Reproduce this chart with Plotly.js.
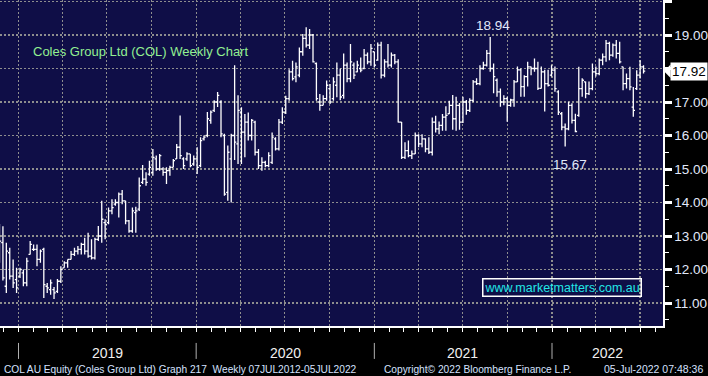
<!DOCTYPE html>
<html>
<head>
<meta charset="utf-8">
<script src="https://cdn.plot.ly/plotly-3.0.1.min.js"></script>
<style>html,body{margin:0;padding:0;background:#000;}#chart{width:708px;height:376px;}</style>
</head>
<body>
<div id="chart"></div>
<script>
// Weekly bars, first week ending 2018-11-23
const firstWeek = '2018-11-23';
const opens = [12.90,12.80,11.50,12.50,11.80,11.70,11.80,11.90,11.60,12.45,12.60,12.60,12.30,12.60,11.50,11.40,11.40,11.35,11.65,12.05,
12.20,12.30,12.45,12.55,12.60,12.75,12.55,12.40,12.35,12.90,13.00,13.40,13.40,13.75,13.95,14.00,14.25,14.05,13.45,13.15,
13.70,13.80,14.60,14.70,14.85,14.90,15.30,15.00,15.00,14.90,14.95,15.05,15.30,15.65,15.30,15.30,15.45,15.15,15.30,15.10,
15.90,16.00,16.45,16.75,17.00,17.00,16.00,14.30,15.30,16.00,15.75,16.70,16.10,16.40,16.00,16.40,15.50,15.10,15.20,15.10,
15.20,15.90,15.60,16.40,16.70,17.10,17.90,17.75,17.80,18.50,18.90,18.70,19.00,18.15,17.00,16.90,17.10,17.40,17.10,17.50,
17.80,17.20,18.10,17.70,18.10,17.90,18.00,18.00,18.40,18.20,18.50,18.25,18.70,17.80,18.20,18.10,18.40,18.20,16.40,15.35,
15.55,15.40,15.45,16.00,15.75,15.90,15.60,15.50,16.40,16.20,16.30,16.55,16.65,16.90,16.50,16.90,16.40,17.00,16.75,17.05,
17.60,17.55,18.00,18.10,18.45,18.00,17.65,17.30,17.00,17.10,16.90,17.06,17.60,17.96,17.46,17.76,18.05,18.00,18.00,17.41,
17.90,17.55,17.80,17.95,17.30,16.65,16.25,16.20,16.90,16.45,16.60,17.40,17.60,17.25,17.40,17.90,17.85,18.25,18.35,18.75,
18.40,18.70,18.45,18.05,17.55,17.70,16.85,17.40,17.80,18.05];
const highs = [13.36,13.29,12.80,12.65,12.30,12.05,12.05,12.00,12.35,12.85,12.75,12.75,12.60,12.65,11.60,11.70,11.48,11.72,12.10,12.25,
12.30,12.55,12.65,12.70,12.80,12.95,13.10,12.90,12.95,13.30,14.05,13.50,13.85,14.10,14.10,14.30,14.37,14.05,13.48,13.85,
13.87,14.75,15.12,14.90,15.25,15.60,15.40,15.45,15.05,15.05,15.10,15.30,15.75,16.60,15.35,15.50,15.45,15.40,15.65,15.95,
16.00,16.70,16.75,17.05,17.30,17.05,16.05,15.70,16.05,18.10,17.20,16.84,16.64,16.69,16.49,16.44,15.60,15.35,15.25,15.50,
16.09,15.95,16.49,16.84,17.19,17.98,18.23,18.18,18.63,19.03,19.23,19.18,19.03,18.18,17.24,17.20,17.64,17.54,17.74,18.18,
18.00,18.45,18.18,18.73,18.18,18.23,18.33,18.58,18.48,18.73,18.50,18.78,18.80,18.28,18.73,18.48,18.43,18.28,16.40,15.80,
15.85,15.55,16.09,16.04,16.04,15.92,15.95,16.54,16.59,16.42,16.64,16.87,17.04,17.21,17.16,16.97,17.16,17.06,17.11,17.66,
17.71,18.10,18.20,18.55,18.94,18.15,17.70,17.40,17.20,17.16,17.10,17.66,18.06,18.00,17.80,18.20,18.06,18.30,18.20,18.06,
17.96,17.96,18.10,18.06,17.35,16.70,16.36,17.01,16.96,16.65,18.05,17.71,17.61,17.61,18.15,18.06,18.30,18.45,18.85,18.80,
18.75,18.85,18.80,18.05,17.85,18.05,17.45,17.95,18.25,18.10];
const lows = [12.20,11.67,11.30,11.70,11.45,11.30,11.75,11.50,11.50,12.45,12.55,12.10,12.20,11.15,11.30,11.25,11.12,11.30,11.60,12.05,
12.05,12.30,12.40,12.45,12.45,12.45,12.35,12.30,12.30,12.85,12.80,12.90,13.35,13.65,13.90,13.55,13.95,13.35,13.10,13.10,
13.10,13.75,14.55,14.50,14.80,14.80,14.95,14.95,14.80,14.55,14.80,15.05,15.30,15.30,15.00,15.25,15.05,15.10,14.85,15.05,
15.85,15.95,16.35,16.70,16.85,15.95,14.20,14.05,14.00,15.27,15.15,15.15,15.35,15.85,15.85,15.40,15.00,14.95,15.05,15.05,
15.15,15.55,15.55,16.34,16.64,17.04,17.64,17.59,17.74,18.38,18.63,18.58,18.18,17.04,16.74,16.90,17.04,16.94,17.04,17.14,
17.05,17.10,17.59,17.59,17.69,17.89,17.89,17.98,18.13,18.08,18.03,18.23,17.70,17.74,18.03,18.03,18.13,16.39,15.30,15.30,
15.35,15.30,15.45,15.65,15.65,15.50,15.45,15.40,16.09,16.04,16.14,16.14,16.64,16.17,16.14,16.17,16.37,16.62,16.70,17.00,
17.51,17.50,17.96,18.06,17.90,17.26,17.16,16.86,16.90,16.41,16.86,16.86,17.60,17.16,17.16,17.46,17.80,17.90,17.36,17.40,
16.72,17.46,17.76,17.31,16.61,16.16,15.67,16.16,16.36,16.10,16.56,17.16,17.11,17.21,17.35,17.76,17.80,18.10,18.20,18.25,
18.35,18.30,18.15,17.35,17.40,17.35,16.56,17.36,17.70,17.85];
const closes = [12.85,11.75,12.55,11.80,11.60,11.45,12.00,11.60,12.25,12.75,12.60,12.30,12.55,11.55,11.45,11.60,11.30,11.65,12.00,12.20,
12.30,12.45,12.55,12.60,12.75,12.55,12.40,12.35,12.90,13.00,13.50,13.35,13.75,13.85,14.00,14.25,14.05,13.45,13.15,13.75,
13.75,14.50,14.70,14.60,15.05,15.35,15.00,15.40,14.90,14.95,15.05,15.25,15.65,15.40,15.10,15.45,15.10,15.30,15.05,15.85,
15.95,16.50,16.70,17.00,17.20,16.05,14.25,15.50,16.00,15.80,16.75,16.10,16.40,16.00,16.45,15.50,15.10,15.20,15.10,15.40,
15.95,15.60,16.40,16.70,17.10,17.90,17.70,18.05,18.50,18.90,18.70,19.00,18.20,17.10,16.90,17.10,17.50,17.00,17.60,17.80,
17.15,18.10,17.70,18.20,17.80,18.10,17.95,18.40,18.20,18.60,18.10,18.70,17.80,18.20,18.10,18.40,18.20,16.40,15.35,15.55,
15.40,15.45,16.00,15.75,15.90,15.60,15.50,16.40,16.20,16.30,16.55,16.60,16.90,16.50,16.90,16.40,17.00,16.75,17.05,17.60,
17.55,18.00,18.10,18.45,18.00,17.76,17.30,17.00,17.10,16.90,17.06,17.60,17.96,17.46,17.76,18.05,18.00,18.00,17.41,17.90,
17.55,17.50,17.95,17.40,16.70,16.25,16.20,16.90,16.45,16.12,17.40,17.65,17.25,17.40,17.90,17.85,18.25,18.35,18.75,18.40,
18.70,18.45,18.20,17.55,17.70,17.45,16.75,17.80,18.05,17.92];

const yTickVals = [11,12,13,14,15,16,17,18,19,20];
// 18.00 is hidden behind the last-price box, 20.00 falls off the top
const yTickText = ['11.00','12.00','13.00','14.00','15.00','16.00','17.00','','19.00',''];
const years = ['2019','2020','2021','2022'];
const markedHigh = 18.94;
const markedLow = 15.67;

const xStart = '2018-11-24';
const xEnd = '2022-08-17';

const DAY = 86400000;
const t0 = Date.parse(firstWeek + 'T00:00:00Z');
const dates = opens.map((_, i) => new Date(t0 + i * 7 * DAY).toISOString().slice(0, 10));

const gridCol = '#8e8e8e';
const txtFont = 'Arial, "Liberation Sans", sans-serif';

const trace = {
  type: 'ohlc', x: dates, open: opens, high: highs, low: lows, close: closes,
  increasing: {line: {color: '#ffffff', width: 1.3}},
  decreasing: {line: {color: '#ffffff', width: 1.3}},
  tickwidth: 0.5, hoverinfo: 'skip', showlegend: false
};

const iHigh = highs.lastIndexOf(markedHigh);
const iLow = lows.lastIndexOf(markedLow);
const last = closes[closes.length - 1];

// year labels centred in the visible part of each year
const tS = Date.parse(xStart + 'T00:00:00Z'), tE = Date.parse(xEnd + 'T00:00:00Z');
const yearAnn = years.map(y => {
  const a = Math.max(Date.parse(y + '-01-01T00:00:00Z'), tS);
  const b = Math.min(Date.parse((+y + 1) + '-01-01T00:00:00Z'), tE);
  return {xref: 'x', yref: 'paper', x: new Date((a + b) / 2).toISOString().slice(0, 10), y: -0.084,
    text: y, showarrow: false, font: {family: txtFont, size: 14, color: '#f0f0f0'}, xanchor: 'center', yanchor: 'middle'};
});
const yearSep = years.map(y => ({type: 'line', xref: 'x', yref: 'paper', x0: y + '-01-01', x1: y + '-01-01',
  y0: -0.052, y1: -0.101, line: {color: '#b0b0b0', width: 1}}));

const annotations = [
  {xref: 'paper', yref: 'paper', x: 0.0468, y: 0.8405, xanchor: 'left', yanchor: 'middle', showarrow: false,
   text: 'Coles Group Ltd (COL) Weekly Chart', font: {family: txtFont, size: 13, color: '#92f092'}},
  {xref: 'x', yref: 'y', x: dates[iHigh], y: markedHigh, xanchor: 'center', yanchor: 'bottom', yshift: 2, xshift: 3,
   showarrow: false, text: markedHigh.toFixed(2), font: {family: txtFont, size: 13.5, color: '#e2e9fa'}},
  {xref: 'x', yref: 'y', x: dates[iLow], y: markedLow, xanchor: 'center', yanchor: 'top', yshift: -8, xshift: 5,
   showarrow: false, text: markedLow.toFixed(2), font: {family: txtFont, size: 13.5, color: '#e2e9fa'}},
  {xref: 'paper', yref: 'paper', x: 0.8477, y: 0.1166, xanchor: 'center', yanchor: 'middle', showarrow: false,
   text: 'www.marketmatters.com.au', font: {family: txtFont, size: 12.5, color: '#22e6e6'},
   bordercolor: '#ffffff', borderwidth: 1.5, borderpad: 1, bgcolor: 'rgba(0,0,0,0)'},
  {xref: 'paper', yref: 'y', x: 1, y: last, xanchor: 'left', yanchor: 'middle', xshift: 7, showarrow: false,
   text: last.toFixed(2), font: {family: txtFont, size: 13.5, color: '#000000'}, bgcolor: '#ffffff', borderpad: 1},
  {xref: 'paper', yref: 'paper', x: 0.003, y: -0.132, xanchor: 'left', yanchor: 'middle', showarrow: false,
   text: 'COL AU Equity (Coles Group Ltd) Graph 217  Weekly 07JUL2012-05JUL2022', font: {family: txtFont, size: 10.2, color: '#d6e2ff'}},
  {xref: 'paper', yref: 'paper', x: 0.576, y: -0.132, xanchor: 'left', yanchor: 'middle', showarrow: false,
   text: 'Copyright\u00a9 2022 Bloomberg Finance L.P.', font: {family: txtFont, size: 10.2, color: '#d6e2ff'}},
  {xref: 'paper', yref: 'paper', x: 1.063, y: -0.132, xanchor: 'right', yanchor: 'middle', showarrow: false,
   text: '05-Jul-2022 07:48:36', font: {family: txtFont, size: 10.5, color: '#d6e2ff'}}
].concat(yearAnn);

const shapes = [
  {type: 'path', xref: 'paper', yref: 'y', path: `M 1.0015 ${last} L 1.0115 ${last + 0.2} L 1.0115 ${last - 0.2} Z`,
   fillcolor: '#ffffff', line: {width: 0}}
].concat(yearSep);

const layout = {
  width: 708, height: 376,
  margin: {l: 0, r: 45, t: 0, b: 50, pad: 0},
  paper_bgcolor: '#000000', plot_bgcolor: '#0f0e47',
  showlegend: false,
  xaxis: {
    type: 'date', range: [xStart, xEnd], fixedrange: true,
    rangeslider: {visible: false},
    tick0: '2019-01-01', dtick: 'M3',
    showgrid: true, gridcolor: gridCol, griddash: '2px,2px', gridwidth: 1.3,
    ticks: 'outside', ticklen: 4, tickwidth: 1, tickcolor: '#ffffff',
    showticklabels: false, zeroline: false,
    showline: true, linecolor: '#ffffff', linewidth: 1.5,
    minor: {dtick: 'M1', ticks: 'outside', ticklen: 4, tickwidth: 1, tickcolor: '#ffffff', showgrid: false}
  },
  yaxis: {
    side: 'right', range: [10.314, 20.045], fixedrange: true,
    tickmode: 'array', tickvals: yTickVals, ticktext: yTickText,
    showgrid: true, gridcolor: gridCol, griddash: '2px,2px', gridwidth: 1.3,
    ticks: 'outside', ticklen: 7, tickwidth: 3, tickcolor: '#ffffff',
    tickfont: {family: txtFont, size: 13.5, color: '#e2e9fa'},
    showline: true, linecolor: '#ffffff', linewidth: 1.5, zeroline: false,
    minor: {tick0: 0, dtick: 0.5, ticks: 'outside', ticklen: 4, tickwidth: 1, tickcolor: '#ffffff', showgrid: false}
  },
  annotations: annotations,
  shapes: shapes
};

Plotly.newPlot('chart', [trace], layout, {staticPlot: true, displayModeBar: false});
</script>
</body>
</html>
